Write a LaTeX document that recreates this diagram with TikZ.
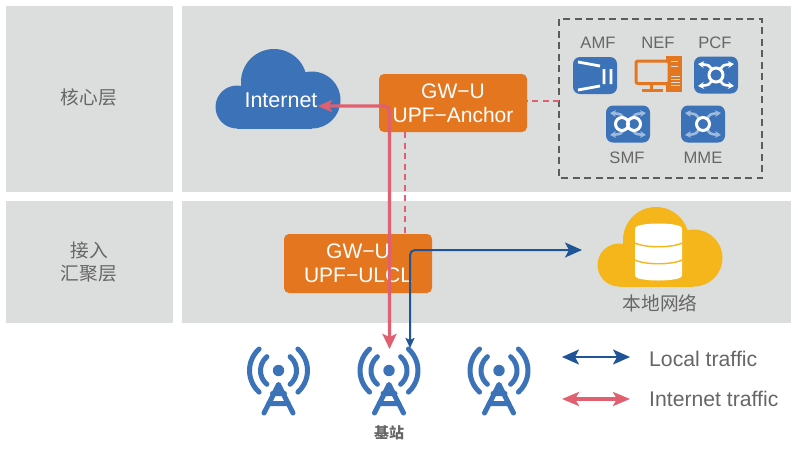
\documentclass[tikz,border=0pt]{standalone}
\usepackage{fontspec}
\setmainfont{Liberation Sans}
\newfontfamily\cjk{Noto Sans CJK SC}
\usetikzlibrary{arrows.meta}
\definecolor{panelgray}{HTML}{DCDEDD}
\definecolor{textgray}{HTML}{666666}
\definecolor{iconblue}{HTML}{3B72B8}
\definecolor{boxorange}{HTML}{E57620}
\definecolor{cloudyellow}{HTML}{F5B61B}
\definecolor{inetred}{HTML}{E0606F}
\definecolor{localblue}{HTML}{1F5497}
\tikzset{
  panel/.style={fill=panelgray, draw=none},
  layerlabel/.style={text=textgray, align=center, font=\cjk\fontsize{18.7}{23}\selectfont},
  iconlabel/.style={text=textgray, font=\fontsize{16.6}{19}\selectfont},
  gwbox/.style={fill=boxorange, rounded corners=5pt, text=white, align=center, inner sep=0pt, font=\fontsize{21}{24}\selectfont},
  legendlabel/.style={text=textgray, anchor=west, inner sep=0pt, font=\fontsize{21.2}{24}\selectfont},
  inet/.style={draw=inetred, line width=3.4pt},
  inetdash/.style={draw=inetred, line width=2.2pt, dash pattern=on 6pt off 4.5pt},
  local/.style={draw=localblue, line width=2pt},
  pics/cloudshape/.style={code={
    \fill[#1] (-4.5,-6.5) circle[radius=33pt];
    \fill[#1] (33.5,11.5) circle[radius=28.5pt];
    \fill[#1] (-41.5,18.5) circle[radius=21.5pt];
    \fill[#1] (-41.5,10) rectangle (33.5,40);
  }},
  pics/towerfig/.style={code={
    \fill[iconblue] (0,0) circle[radius=5.7pt];
    \draw[iconblue, line width=5pt, line cap=round, line join=round] (-14.5,42.5)--(0,14)--(14.5,42.5) (-6,23)--(6,23) (-10,33)--(10,33);
    \draw[iconblue, line width=5pt, line cap=round]
      (-11.6,-13.8) arc[start angle=130, delta angle=100, radius=18pt]
      (11.6,-13.8) arc[start angle=50, delta angle=-100, radius=18pt]
      (-19.4,-21.5) arc[start angle=132, delta angle=96, radius=29pt]
      (19.4,-21.5) arc[start angle=48, delta angle=-96, radius=29pt];
  }},
  pics/switchfig/.style={code={
    \fill[iconblue, rounded corners=7pt] (-22,-18.5) rectangle (22,18.5);
    \draw[#1, line width=2.6pt, -{Stealth[length=6pt,width=7pt]}] (-4,-5) .. controls (-7,-10) .. (-18,-11);
    \draw[#1, line width=2.6pt, -{Stealth[length=6pt,width=7pt]}] (4,-5) .. controls (7,-10) .. (18,-11);
    \draw[#1, line width=2.6pt, -{Stealth[length=6pt,width=7pt]}] (-4,5) .. controls (-7,10) .. (-18,11);
    \draw[#1, line width=2.6pt, -{Stealth[length=6pt,width=7pt]}] (4,5) .. controls (7,10) .. (18,11);
  }},
}
\begin{document}
\begin{tikzpicture}[x=1pt, y=-1pt]
\useasboundingbox (0,0) rectangle (798,448);
% panels
\fill[panel] (6,6) rectangle (173,192);
\fill[panel] (182,6) rectangle (791,192);
\fill[panel] (6,201) rectangle (173,323);
\fill[panel] (182,201) rectangle (791,323);
\node[layerlabel] (corelabel) at (89,97) {核心层};
\node[layerlabel] (accesslabel) at (89,261.5) {接入\\汇聚层};
% dashed box
\draw[draw=textgray!90!black, line width=1.6pt, dash pattern=on 7pt off 4.5pt] (559,19) rectangle (762,178);
\node[iconlabel] (amflabel) at (598,43) {AMF};
\node[iconlabel] (neflabel) at (658,43) {NEF};
\node[iconlabel] (pcflabel) at (715,43) {PCF};
\node[iconlabel] (smflabel) at (627,158) {SMF};
\node[iconlabel] (mmelabel) at (703,158) {MME};
% AMF icon
\fill[iconblue, rounded corners=7pt] (573,57) rectangle (617,94);
\draw[white, line width=2.8pt] (578,62)--(600,66) (578,90)--(600,86) (604,69)--(604,84) (611,69)--(611,84);
% NEF icon
\fill[boxorange] (666,56) rectangle (682,92);
\draw[panelgray, line width=1pt] (671,61)--(678,61) (671,66)--(678,66) (671,76)--(680,76) (671,79)--(680,79) (671,82)--(680,82) (671,85)--(680,85);
\draw[fill=panelgray, draw=boxorange, line width=3pt, rounded corners=2pt] (636,61) rectangle (669,83.5);
\draw[boxorange, line width=3pt] (651,85)--(651,90) (642,90.5)--(663,90.5);
% PCF SMF MME icons
\pic at (716,75) {switchfig=white};
\draw[white, line width=3pt] (716,75) circle[radius=7pt];
\pic at (628,124) {switchfig=white!50!iconblue};
\draw[white, line width=3pt] (622,124) circle[radius=6.5pt] (634,124) circle[radius=6.5pt];
\pic at (703,124) {switchfig=white!50!iconblue};
\draw[white, line width=3pt] (703,124) circle[radius=6.5pt];
% clouds
\pic at (278.5,88.5) {cloudshape=iconblue};
\node[text=white, inner sep=0pt, font=\fontsize{21.5}{25}\selectfont] (internet) at (281,100) {Internet};
\pic at (660.5,246.5) {cloudshape=cloudyellow};
\fill[white, rounded corners=1pt] (635,228) rectangle (682,276);
\fill[white] (658.5,228) ellipse[x radius=23.5pt, y radius=4.5pt];
\fill[white] (658.5,276) ellipse[x radius=23.5pt, y radius=4.5pt];
\draw[cloudyellow, line width=1.4pt] (635,243) .. controls (645,248) and (672,248) .. (682,243);
\draw[cloudyellow, line width=1.4pt] (635,260) .. controls (645,265) and (672,265) .. (682,260);
\node[layerlabel] (locallabel) at (660,303) {本地网络};
% gateways
\node[gwbox, minimum width=148pt, minimum height=58pt] (anchor) at (453,103) {GW−U\\UPF−Anchor};
\node[gwbox, minimum width=148pt, minimum height=59pt] (ulcl) at (358,263.5) {GW−U\\UPF−ULCL};
% towers
\pic at (278.5,370.5) {towerfig};
\pic at (389,370.5) {towerfig};
\pic at (499,370.5) {towerfig};
\node[text=textgray, font=\cjk\bfseries\fontsize{15}{17}\selectfont] (bslabel) at (389,433) {基站};
% connectors
\coordinate (inetend) at (318,106);
\coordinate (inettower) at (389.5,349);
\coordinate (localend) at (582,250);
\coordinate (localtower) at (410,348);
\coordinate (boxeast) at (559,101);
\draw[inetdash] (boxeast) -- (anchor.east |- boxeast);
\draw[inetdash] (anchor.south -| 405,0) -- (ulcl.north -| 405,0);
\draw[inet, rounded corners=5pt, {Stealth[length=14pt,width=12pt,inset=3pt]}-{Stealth[length=15pt,width=14pt,inset=3pt]}] (inetend) -| (inettower);
\draw[local, rounded corners=5pt, {Stealth[length=17pt,width=15pt,inset=4pt]}-{Stealth[length=10pt,width=9pt,inset=2pt]}] (localend) -| (localtower);
% legend
\coordinate (legla) at (562,357);
\coordinate (leglb) at (630,357);
\coordinate (legia) at (562,399);
\coordinate (legib) at (630,399);
\draw[local, {Stealth[length=17pt,width=15pt,inset=4pt]}-{Stealth[length=17pt,width=15pt,inset=4pt]}] (legla) -- (leglb);
\draw[inet, {Stealth[length=17pt,width=14pt,inset=4pt]}-{Stealth[length=17pt,width=14pt,inset=4pt]}] (legia) -- (legib);
\node[legendlabel] (localtext) at (649,359) {Local traffic};
\node[legendlabel] (inettext) at (649,399) {Internet traffic};
\end{tikzpicture}
\end{document}
